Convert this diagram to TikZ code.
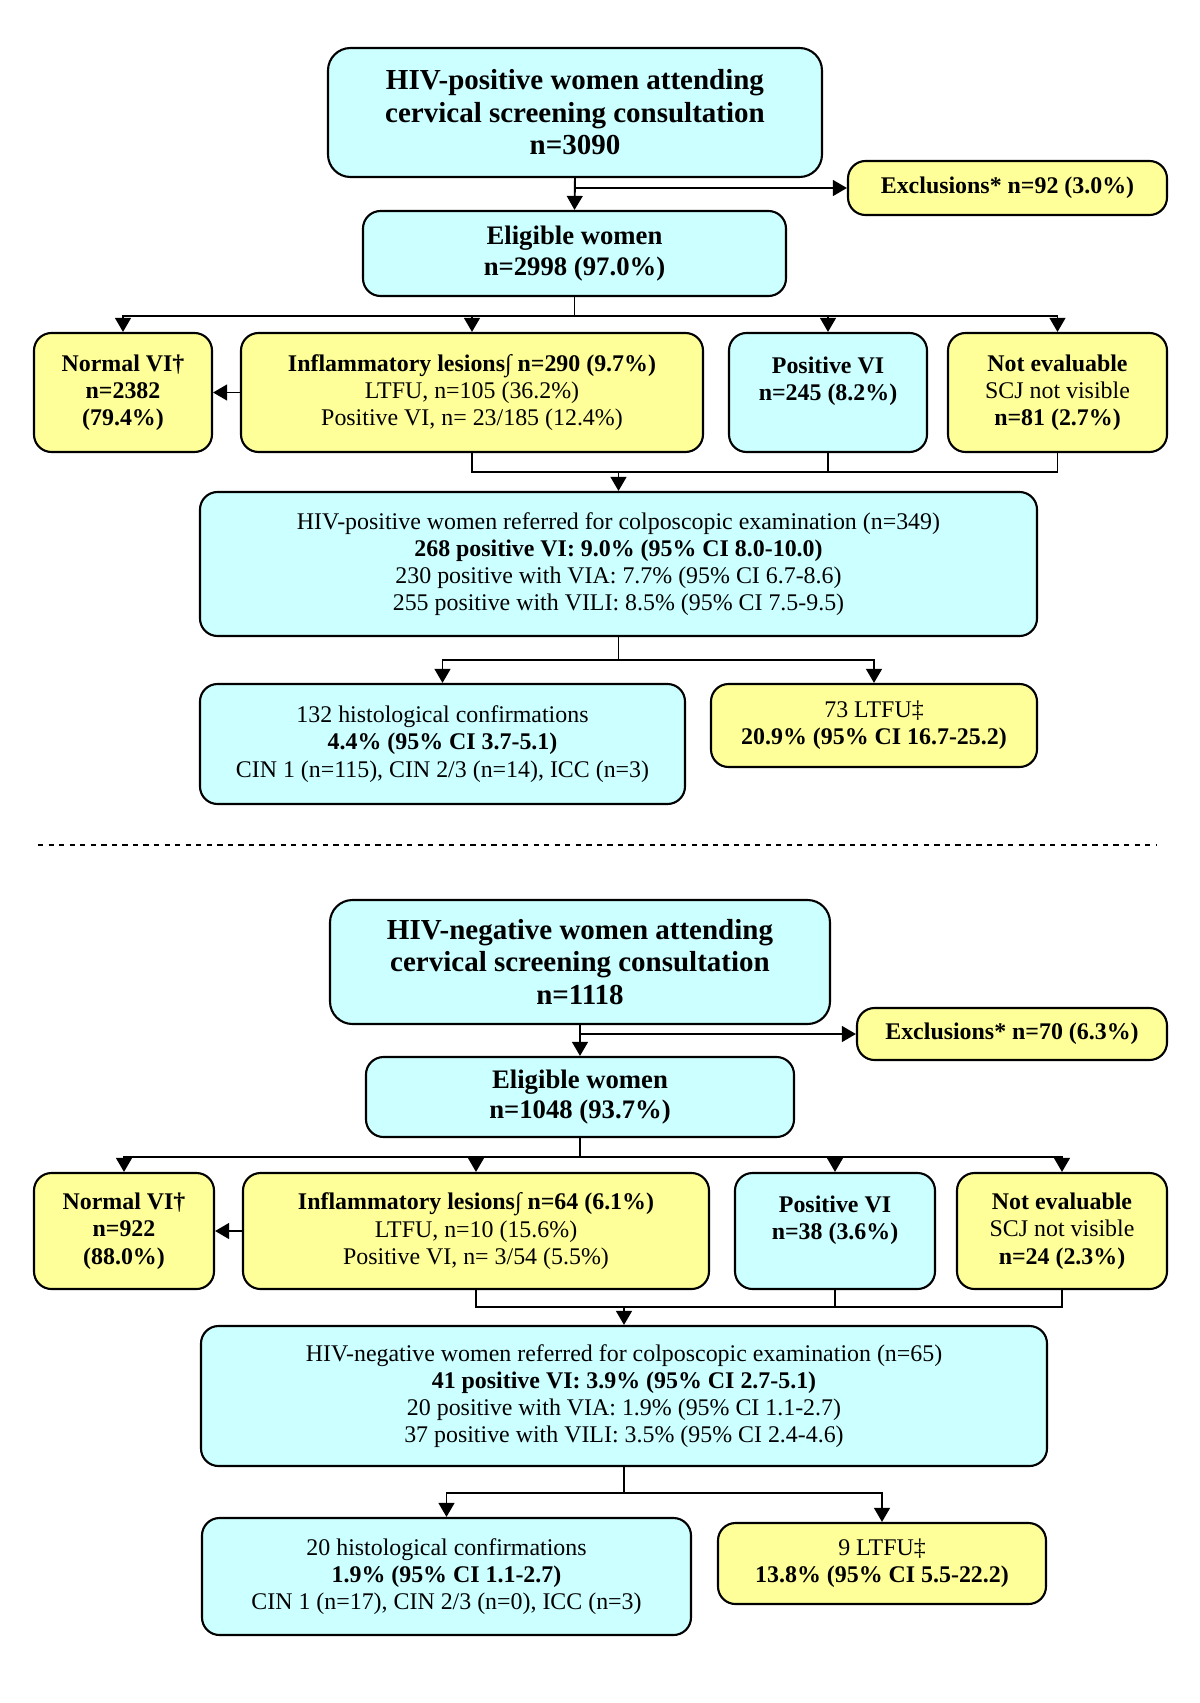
\documentclass[tikz,border=0pt]{standalone}
\usepackage{fontspec}
\setmainfont{Liberation Serif}
\usetikzlibrary{arrows.meta}
\definecolor{boxcyan}{RGB}{204,255,255}
\definecolor{boxyellow}{RGB}{255,255,153}
\tikzset{
  box/.style={draw, line width=1.2pt, rounded corners=0.35cm, align=center, inner sep=2pt, font=\fontsize{13.6}{15.5}\selectfont},
  cyanbox/.style={box, fill=boxcyan},
  yellowbox/.style={box, fill=boxyellow},
  headbox/.style={cyanbox, rounded corners=0.45cm, font=\fontsize{16.5}{18.5}\selectfont\bfseries},
  eligbox/.style={cyanbox, font=\fontsize{15.2}{17.3}\selectfont\bfseries},
}

\begin{document}
\begin{tikzpicture}[>={Triangle[length=8pt,width=9pt]}, line width=1.1pt]
\useasboundingbox (0,0) rectangle (24,-34.06);

% HIV-positive women
\node[headbox, minimum width=9.88cm, minimum height=2.58cm] (hivpos) at (11.5,-2.25) {HIV-positive women attending\\cervical screening consultation\\n=3090};
\node[yellowbox, minimum width=6.38cm, minimum height=1.08cm] (excl1) at (20.15,-3.76) {\textbf{Exclusions* n=92 (3.0\%)}};
\node[eligbox, minimum width=8.46cm, minimum height=1.7cm] (elig1) at (11.49,-5.07) {Eligible women\\n=2998 (97.0\%)};
\node[yellowbox, minimum width=3.56cm, minimum height=2.38cm] (normal1) at (2.46,-7.85) {\textbf{Normal VI†}\\\textbf{n=2382}\\\textbf{(79.4\%)}};
\node[yellowbox, minimum width=9.24cm, minimum height=2.38cm] (infl1) at (9.44,-7.85) {\textbf{Inflammatory lesions∫ n=290 (9.7\%)}\\LTFU, n=105 (36.2\%)\\Positive VI, n= 23/185 (12.4\%)};
\node[cyanbox, minimum width=3.96cm, minimum height=2.38cm] (posvi1) at (16.56,-7.85) {\textbf{Positive VI}\\\textbf{n=245 (8.2\%)}\\\mbox{}};
\node[yellowbox, minimum width=4.38cm, minimum height=2.38cm] (noteval1) at (21.15,-7.85) {\textbf{Not evaluable}\\SCJ not visible\\\textbf{n=81 (2.7\%)}};
\node[cyanbox, minimum width=16.74cm, minimum height=2.88cm] (refer1) at (12.37,-11.28) {HIV-positive women referred for colposcopic examination (n=349)\\\textbf{268 positive VI: 9.0\% (95\% CI 8.0-10.0)}\\230 positive with VIA: 7.7\% (95\% CI 6.7-8.6)\\255 positive with VILI: 8.5\% (95\% CI 7.5-9.5)};
\node[cyanbox, minimum width=9.7cm, minimum height=2.4cm] (histo1) at (8.85,-14.88) {132 histological confirmations\\\textbf{4.4\% (95\% CI 3.7-5.1)}\\CIN 1 (n=115), CIN 2/3 (n=14), ICC (n=3)};
\node[yellowbox, minimum width=6.52cm, minimum height=1.66cm] (ltfu1) at (17.48,-14.51) {73 LTFU‡\\\textbf{20.9\% (95\% CI 16.7-25.2)}};

\coordinate (excsplit1) at (hivpos.south |- excl1.west);
\coordinate (split1) at (11.49,-6.32);
\coordinate (join1) at (12.37,-9.44);
\coordinate (split1b) at (12.37,-13.2);
\draw[->] (hivpos.south) -- (elig1.north);
\draw[->] (excsplit1) -- (excl1.west);
\draw (elig1.south) -- (split1);
\draw[->] (split1) -| (normal1.north);
\draw[->] (split1) -| (infl1.north);
\draw[->] (split1) -| (posvi1.north);
\draw[->] (split1) -| (noteval1.north);
\draw[->] (infl1) -- (normal1);
\draw (infl1.south) |- (join1);
\draw (noteval1.south) |- (join1);
\draw (posvi1.south) -- (posvi1.south |- join1);
\draw[->] (join1) -- (refer1.north);
\draw (refer1.south) -- (split1b);
\draw[->] (split1b) -| (histo1.north);
\draw[->] (split1b) -| (ltfu1.north);

\draw[dashed] (0.76,-16.9) -- (23.14,-16.9);

% HIV-negative women
\node[headbox, minimum width=10cm, minimum height=2.48cm] (hivneg) at (11.6,-19.24) {HIV-negative women attending\\cervical screening consultation\\n=1118};
\node[yellowbox, minimum width=6.2cm, minimum height=1.04cm] (excl2) at (20.24,-20.68) {\textbf{Exclusions* n=70 (6.3\%)}};
\node[eligbox, minimum width=8.56cm, minimum height=1.6cm] (elig2) at (11.6,-21.94) {Eligible women\\n=1048 (93.7\%)};
\node[yellowbox, minimum width=3.6cm, minimum height=2.32cm] (normal2) at (2.48,-24.62) {\textbf{Normal VI†}\\\textbf{n=922}\\\textbf{(88.0\%)}};
\node[yellowbox, minimum width=9.32cm, minimum height=2.32cm] (infl2) at (9.52,-24.62) {\textbf{Inflammatory lesions∫ n=64 (6.1\%)}\\LTFU, n=10 (15.6\%)\\Positive VI, n= 3/54 (5.5\%)};
\node[cyanbox, minimum width=4cm, minimum height=2.32cm] (posvi2) at (16.7,-24.62) {\textbf{Positive VI}\\\textbf{n=38 (3.6\%)}\\\mbox{}};
\node[yellowbox, minimum width=4.2cm, minimum height=2.32cm] (noteval2) at (21.24,-24.62) {\textbf{Not evaluable}\\SCJ not visible\\\textbf{n=24 (2.3\%)}};
\node[cyanbox, minimum width=16.92cm, minimum height=2.8cm] (refer2) at (12.48,-27.92) {HIV-negative women referred for colposcopic examination (n=65)\\\textbf{41 positive VI: 3.9\% (95\% CI 2.7-5.1)}\\20 positive with VIA: 1.9\% (95\% CI 1.1-2.7)\\37 positive with VILI: 3.5\% (95\% CI 2.4-4.6)};
\node[cyanbox, minimum width=9.78cm, minimum height=2.34cm] (histo2) at (8.93,-31.53) {20 histological confirmations\\\textbf{1.9\% (95\% CI 1.1-2.7)}\\CIN 1 (n=17), CIN 2/3 (n=0), ICC (n=3)};
\node[yellowbox, minimum width=6.56cm, minimum height=1.62cm] (ltfu2) at (17.64,-31.27) {9 LTFU‡\\\textbf{13.8\% (95\% CI 5.5-22.2)}};

\coordinate (excsplit2) at (hivneg.south |- excl2.west);
\coordinate (split2) at (11.6,-23.14);
\coordinate (join2) at (12.48,-26.14);
\coordinate (split2b) at (12.48,-29.86);
\draw[->] (hivneg.south) -- (elig2.north);
\draw[->] (excsplit2) -- (excl2.west);
\draw (elig2.south) -- (split2);
\draw[->] (split2) -| (normal2.north);
\draw[->] (split2) -| (infl2.north);
\draw[->] (split2) -| (posvi2.north);
\draw[->] (split2) -| (noteval2.north);
\draw[->] (infl2) -- (normal2);
\draw (infl2.south) |- (join2);
\draw (noteval2.south) |- (join2);
\draw (posvi2.south) -- (posvi2.south |- join2);
\draw[->] (join2) -- (refer2.north);
\draw (refer2.south) -- (split2b);
\draw[->] (split2b) -| (histo2.north);
\draw[->] (split2b) -| (ltfu2.north);
\end{tikzpicture}
\end{document}
